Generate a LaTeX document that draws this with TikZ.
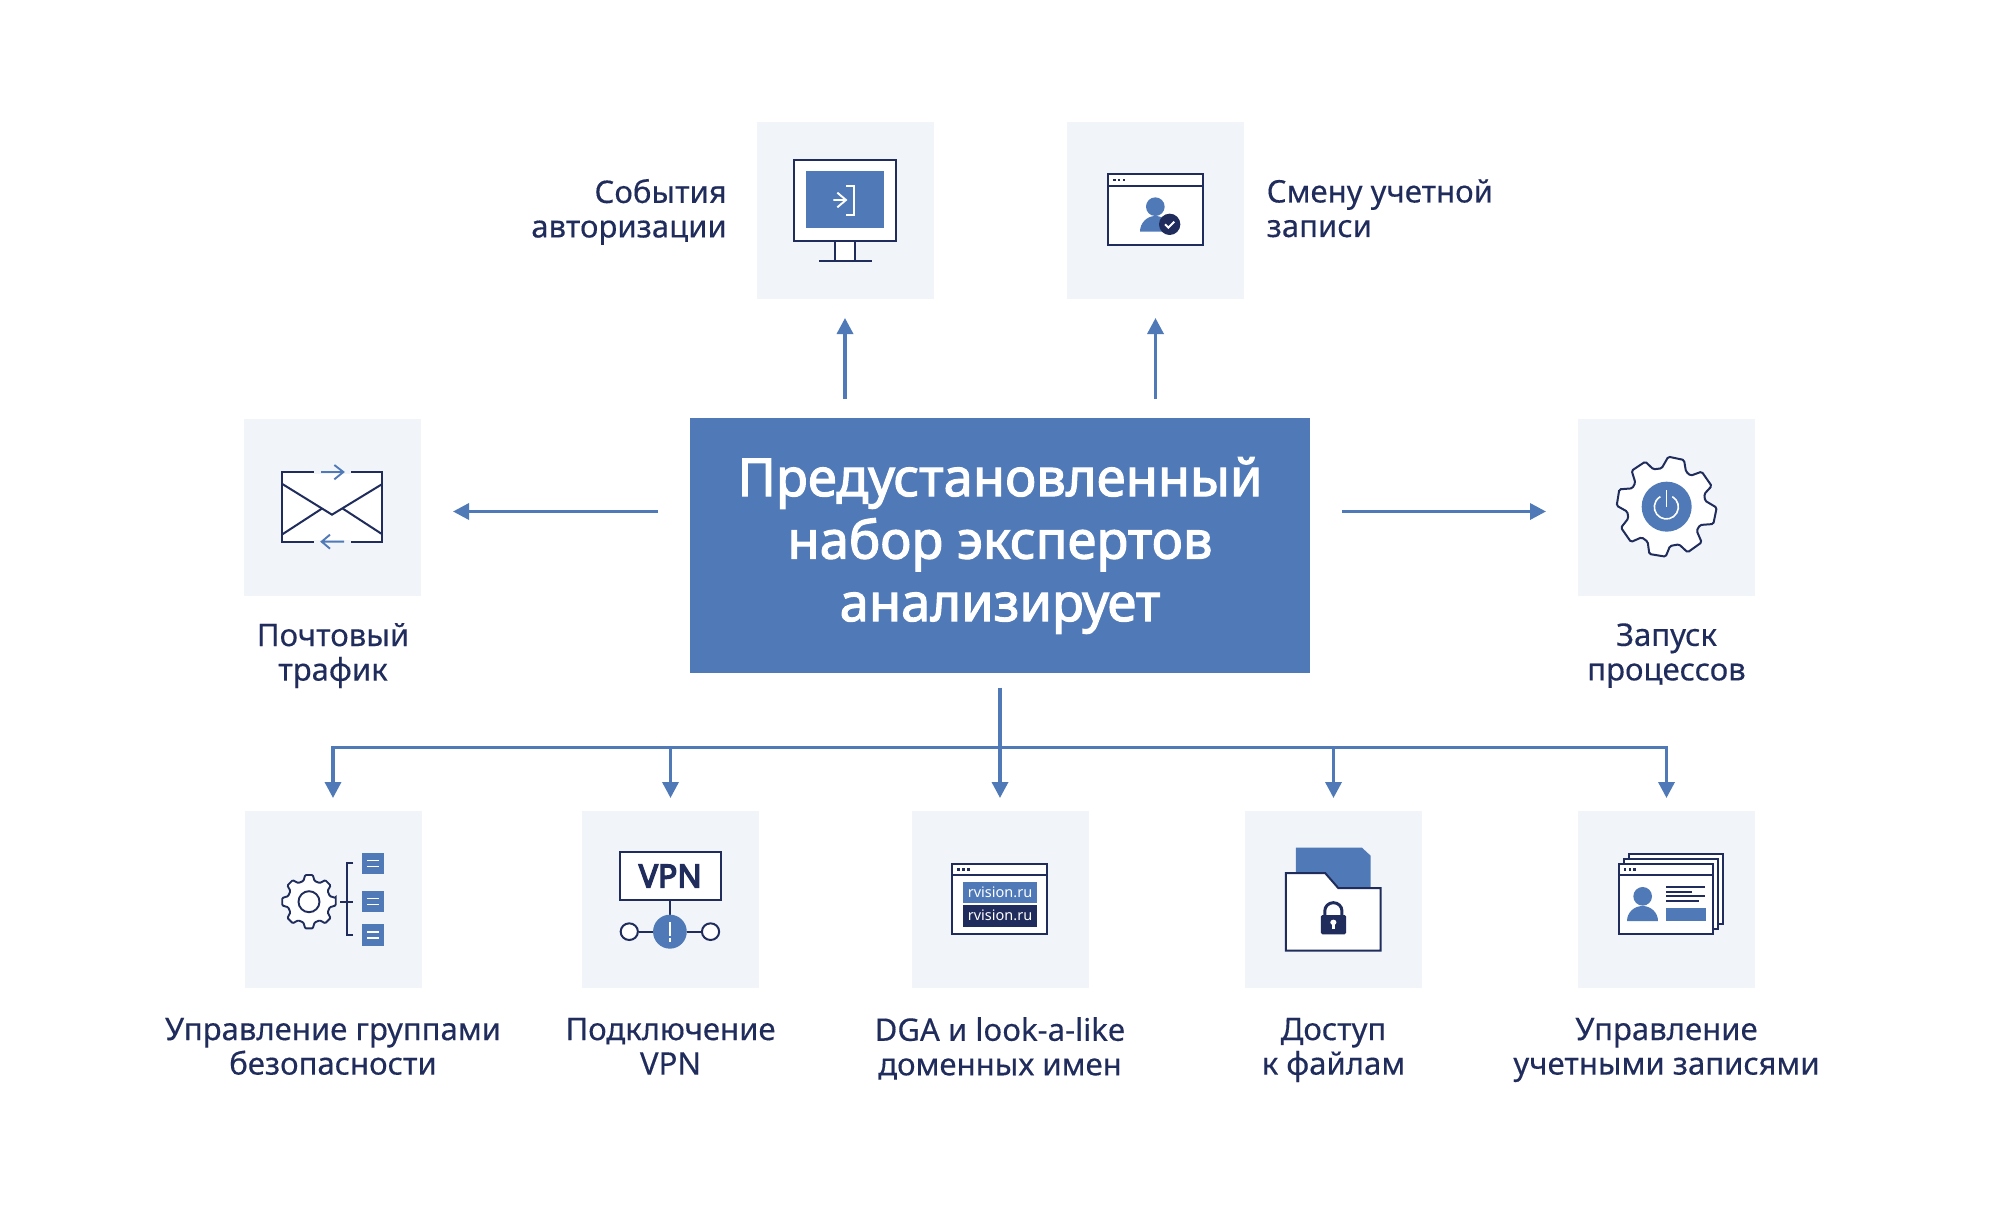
\documentclass[tikz,border=0pt]{standalone}
\usepackage{fontspec}
\setmainfont{Noto Sans}
\newfontfamily\titlefont[FakeBold=2.2]{Noto Sans}
\newfontfamily\vpnfont[FakeBold=4.5]{Noto Sans}
\newfontfamily\lblfont[FakeBold=0.3]{Noto Sans}
\usetikzlibrary{arrows.meta,calc}
\definecolor{blue1}{HTML}{4F79B7}
\definecolor{navy}{HTML}{1F2C5C}
\definecolor{tilebg}{HTML}{F1F5F9}
\tikzset{
 tile/.style={fill=tilebg,draw=none,minimum width=177pt,minimum height=177pt,inner sep=0pt,outer sep=0pt},
 arr/.style={draw=blue1,line width=3.4pt,-{Triangle[length=16pt,width=16pt]}},
 busline/.style={draw=blue1,line width=3.4pt},
 lbl/.style={text=navy,font=\fontsize{31.1}{34.5}\selectfont\lblfont,align=center,inner sep=0pt,execute at begin node={\strut},execute at end node={\strut}},
 ln/.style={draw=navy,line width=2pt},
 wln/.style={draw=white,line width=1.9pt},
 bln/.style={draw=blue1,line width=1.9pt},
 zb/.style={xscale=1/2.904,yscale=1/3},
}
\begin{document}
\begin{tikzpicture}[x=1pt,y=-1pt]
\useasboundingbox[fill=white] (0,0) rectangle (2000,1209);
% tiles
\node[tile] (t1) at (845,210.5) {};
\node[tile] (t2) at (1155.5,210.5) {};
\node[tile] (tl) at (332.5,507) {};
\node[tile] (tr) at (1666.5,507) {};
\node[tile] (b1) at (333,899.5) {};
\node[tile] (b2) at (670.5,899.5) {};
\node[tile] (b3) at (1000,899.5) {};
\node[tile] (b4) at (1333.5,899.5) {};
\node[tile] (b5) at (1666.5,899.5) {};
\node[fill=blue1,minimum width=620.5pt,minimum height=255pt,inner sep=0pt,outer sep=0pt,align=center,text=white,font=\fontsize{52.5}{62.5}\selectfont\titlefont] (main) at (1000,545.5) {Предустановленный\\набор экспертов\\анализирует};
% connectors
\coordinate (ml) at (690,511.5);\coordinate (mr) at (1310,511.5);
\coordinate (tle) at (421,511.5);\coordinate (trw) at (1578,511.5);
\draw[arr,shorten <=19pt,shorten >=19pt] (t1 |- main.north) -- (t1.south);
\draw[arr,shorten <=19pt,shorten >=19pt] (t2 |- main.north) -- (t2.south);
\draw[arr,shorten <=32pt,shorten >=32pt] (ml) -- (tle);
\draw[arr,shorten <=32pt,shorten >=32pt] (mr) -- (trw);
\coordinate (bus) at (1000,747.5);
\draw[busline,shorten <=14.5pt] (main.south) -- (bus);
\draw[busline,line cap=rect] (b1 |- bus) -- (b5 |- bus);
\foreach \n in {b1,b2,b3,b4,b5}{\draw[arr,shorten >=13pt] (\n |- bus) -- (\n.north);}
% labels
\node[lbl,align=right,anchor=east] (l1) at (727,213.4) {События\\авторизации};
\node[lbl,align=left,anchor=west] (l2) at (1266.5,213.4) {Смену учетной\\записи};
\node[lbl] (l3) at (333,657) {Почтовый\\трафик};
\node[lbl] (l4) at (1666.5,657) {Запуск\\процессов};
\node[lbl] (l5) at (333,1051.4) {Управление группами\\безопасности};
\node[lbl] (l6) at (670.5,1051.4) {Подключение\\VPN};
\node[lbl] (l7) at (1000,1051.4) {DGA и look-a-like\\доменных имен};
\node[lbl] (l8) at (1333.5,1051.4) {Доступ\\к файлам};
\node[lbl] (l9) at (1666.5,1051.4) {Управление\\учетными записями};
% monitor
\begin{scope}[shift={(740,110)},scale=1/3]
\draw[ln,fill=white] (284,393) rectangle (346,452);
\draw[ln] (237,452) -- (396,452);
\draw[ln,fill=white] (163,151) rectangle (467,393);
\fill[blue1] (198,183) rectangle (432,355);
\draw[wln] (280,270) -- (318,270) (292,248) -- (318,270) -- (292,292);
\draw[wln] (318,227) -- (342,227) -- (342,316) -- (318,316);
% window with person
\draw[ln,fill=white] (1105,193) rectangle (1388,405);
\draw[ln] (1105,227) -- (1388,227);
\foreach \x in {1123,1137,1152}{\fill[navy] (\x-4,206) rectangle (\x+4,214);}
\fill[blue1] (1246,290) circle (28);
\fill[blue1] (1200,365) arc[start angle=180,end angle=360,x radius=46,y radius=47] -- cycle;
\fill[navy] (1289,343) circle (32);
\draw[wln] (1275,343) -- (1285,353) -- (1303,335);
\end{scope}
% envelope
\begin{scope}[shift={(230,410)},scale=1/3]
\fill[white] (157,186) rectangle (457,396);
\draw[ln,line join=miter] (252,186) -- (157,186) -- (157,396) -- (252,396) (362,396) -- (457,396) -- (457,186) -- (362,186);
\fill[tilebg] (252,178) rectangle (362,192);
\fill[tilebg] (252,390) rectangle (362,402);
\draw[ln,line join=miter] (157,222) -- (306,314) -- (457,222);
\draw[ln] (157,373) -- (277,295) (457,373) -- (337,295);
\draw[bln] (273,186) -- (340,186) (313,165) -- (340,186) -- (313,208);
\draw[bln] (342,395) -- (275,395) (300,374) -- (275,395) -- (300,416);
\end{scope}
% big gear
\begin{scope}[shift={(1570,410)},scale=1/3]
\draw[ln,fill=white,rounded corners=1.5pt] (295,140) -- (342,150) -- (348,185) -- (362,197) -- (395,185) -- (425,228) -- (403,252) -- (405,272) -- (440,293) -- (430,342) -- (390,345) -- (380,362) -- (395,397) -- (353,427) -- (327,403) -- (300,408) -- (287,440) -- (238,432) -- (233,395) -- (215,382) -- (183,396) -- (153,353) -- (175,325) -- (172,305) -- (140,287) -- (148,238) -- (187,235) -- (196,218) -- (185,182) -- (226,155) -- (250,178) -- (275,175) -- cycle;
\fill[blue1] (290,290) circle (75);
\draw[wln,line width=1.6pt] (289,291) ++(-60:36) arc[start angle=-60,end angle=240,radius=36];
\draw[wln,line width=1.6pt] (289,240) -- (289,291);
\end{scope}
% small gear
\begin{scope}[shift={(309,901.7)}]
\draw[ln,fill=white,line width=1.9pt,rounded corners=1pt] (-8:27) \foreach \a in {0,45,...,315}{ -- (\a-8:27) -- (\a+8:27) -- (\a+15:21.5) -- (\a+30:21.5)} -- cycle;
\draw[ln,line width=1.9pt] (0,0) circle (10.5);
\end{scope}
\begin{scope}[shift={(235,805)},zb]
\draw[ln,line width=1.9pt] (344,174) -- (326,174) -- (326,390) -- (344,390);
\draw[ln,line width=1.9pt] (305,290) -- (344,290);
\foreach \y in {175,290,390}{
 \fill[blue1] (370,\y-32) rectangle (432,\y+32);
 \draw[wln,line width=1.5pt] (384,\y-9) -- (418,\y-9) (384,\y+9) -- (418,\y+9);
}
% VPN
\draw[ln,fill=white] (1118,140) rectangle (1410,285);
\node[text=navy,font=\fontsize{32}{32}\selectfont\vpnfont,inner sep=0pt] (vpnt) at (1264,213) {VPN};
\draw[ln] (1264,285) -- (1264,335) (1172,380) -- (1214,380) (1312,380) -- (1355,380);
\fill[blue1] (1263,380) ellipse (49 and 51);
\draw[wln,line width=1.6pt] (1263,352) -- (1263,393) (1263,400) -- (1263,410);
\draw[ln,fill=white] (1145,380) ellipse (25 and 25);
\draw[ln,fill=white] (1381,380) ellipse (25 and 25);
\end{scope}
% domains + folder
\begin{scope}[shift={(905,805)},zb]
\draw[ln,fill=white] (137,177) rectangle (413,388);
\draw[ln] (137,210) -- (413,210);
\foreach \x in {156,170,184}{\fill[navy] (\x-4,189) rectangle (\x+4,197);}
\fill[blue1] (168,231) rectangle (383,295);
\fill[navy] (168,301) rectangle (383,365);
\node[text=white,font=\fontsize{14.5}{14.5}\selectfont,inner sep=0pt] (d1) at (276,263) {rvision.ru};
\node[text=white,font=\fontsize{14.5}{14.5}\selectfont,inner sep=0pt] (d2) at (276,331) {rvision.ru};
% folder
\fill[blue1] (1135,128) -- (1327,128) -- (1352,152) -- (1352,260) -- (1135,260) -- cycle;
\draw[ln,fill=white,line join=miter] (1106,204) -- (1220,204) -- (1258,249) -- (1381,249) -- (1381,437) -- (1106,437) -- cycle;
\fill[navy,rounded corners=1.5pt] (1208,330) rectangle (1281,388);
\draw[navy,line width=3pt] (1219,332) -- (1219,318) arc[start angle=180,end angle=360,x radius=25,y radius=25] -- (1269,332);
\fill[white] (1244,352) ellipse (9 and 8);
\fill[white] (1239,352) rectangle (1249,372);
\end{scope}
% cards
\begin{scope}[shift={(1570,805)},scale=1/3]
\draw[ln,fill=white] (176,148) rectangle (460,358);
\draw[ln,fill=white] (161,162) rectangle (445,372);
\draw[ln,fill=white] (147,177) rectangle (430,388);
\draw[ln] (147,210) -- (430,210);
\foreach \x in {165,180,194}{\fill[navy] (\x-4,190) rectangle (\x+4,198);}
\fill[blue1] (218,274) circle (28);
\fill[blue1] (171,348) arc[start angle=180,end angle=360,x radius=46.5,y radius=45] -- cycle;
\draw[ln,line width=1.8pt] (289,246) -- (405,246) (289,260) -- (367,260) (289,274) -- (405,274) (289,289) -- (386,289);
\fill[blue1] (289,310) rectangle (409,348);
\end{scope}
\end{tikzpicture}
\end{document}
